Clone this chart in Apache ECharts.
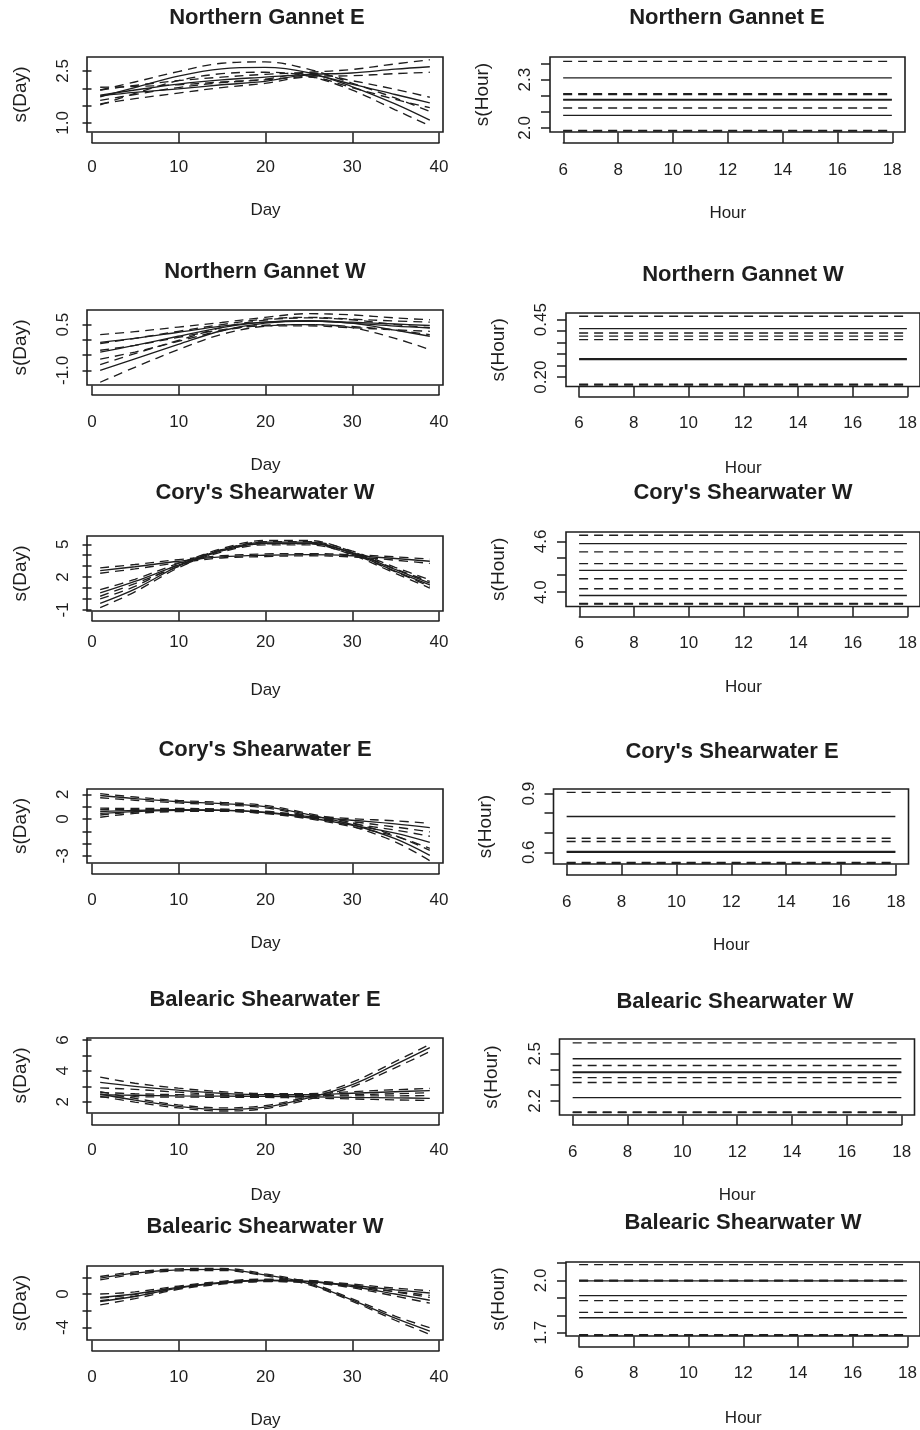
<!DOCTYPE html>
<html>
<head>
<meta charset="utf-8">
<script src="https://cdn.jsdelivr.net/npm/echarts@6/dist/echarts.min.js"></script>
<style>
html, body { margin: 0; padding: 0; background: #fff; }
#main { width: 920px; height: 1430px; }
</style>
</head>
<body>
<div id="main"></div>
<script>
// sample days / hours
const days = [1, 5, 10, 15, 20, 25, 30, 35, 39];
const hours = [6, 18];

// Northern Gannet E, s(Day): three fits with upper/lower bands
const ngeDayFit = [
    [1.75, 2.02, 2.35, 2.56, 2.60, 2.45, 2.05, 1.55, 1.08],
    [1.78, 1.88, 1.98, 2.10, 2.20, 2.38, 2.12, 1.82, 1.58],
    [1.80, 1.95, 2.12, 2.24, 2.32, 2.40, 2.44, 2.55, 2.62]
];
const ngeDayUp = [
    [1.95, 2.18, 2.48, 2.72, 2.76, 2.55, 2.15, 1.72, 1.33],
    [2.03, 2.05, 2.10, 2.18, 2.26, 2.44, 2.22, 1.97, 1.74],
    [1.95, 2.08, 2.22, 2.32, 2.40, 2.46, 2.54, 2.70, 2.82]
];
const ngeDayLo = [
    [1.52, 1.85, 2.22, 2.42, 2.46, 2.35, 1.95, 1.38, 0.92],
    [1.55, 1.70, 1.86, 2.02, 2.14, 2.32, 2.02, 1.68, 1.44],
    [1.65, 1.82, 2.02, 2.16, 2.24, 2.34, 2.36, 2.42, 2.46]
];

// Northern Gannet W, s(Day)
const ngwDayFit = [
    [-0.08, 0.05, 0.25, 0.45, 0.58, 0.62, 0.58, 0.52, 0.47],
    [-0.40, -0.18, 0.12, 0.40, 0.58, 0.62, 0.55, 0.45, 0.39],
    [-1.00, -0.62, -0.15, 0.30, 0.55, 0.62, 0.55, 0.32, 0.12]
];
const ngwDayUp = [
    [0.17, 0.27, 0.42, 0.57, 0.74, 0.86, 0.82, 0.72, 0.66],
    [-0.12, 0.05, 0.28, 0.50, 0.68, 0.74, 0.68, 0.62, 0.58],
    [-0.81, -0.45, -0.02, 0.40, 0.65, 0.72, 0.66, 0.50, 0.40]
];
const ngwDayLo = [
    [-0.34, -0.18, 0.08, 0.33, 0.46, 0.46, 0.40, 0.33, 0.28],
    [-0.63, -0.40, -0.05, 0.30, 0.48, 0.50, 0.44, 0.32, 0.17],
    [-1.39, -0.90, -0.32, 0.18, 0.45, 0.50, 0.40, 0.05, -0.32]
];

// Cory's Shearwater W, s(Day)
const cswDayFit = [
    [2.60, 2.95, 3.45, 3.85, 4.00, 4.05, 3.95, 3.70, 3.45],
    [0.55, 1.60, 3.10, 4.40, 5.10, 5.10, 4.25, 2.70, 1.45],
    [-0.40, 0.90, 3.00, 4.50, 5.20, 5.20, 4.20, 2.55, 1.30]
];
const cswDayUp = [
    [2.85, 3.15, 3.60, 3.95, 4.12, 4.15, 4.05, 3.85, 3.65],
    [0.85, 1.80, 3.25, 4.50, 5.25, 5.25, 4.40, 2.90, 1.75],
    [0.00, 1.15, 3.15, 4.60, 5.35, 5.35, 4.35, 2.75, 1.60]
];
const cswDayLo = [
    [2.35, 2.75, 3.30, 3.75, 3.88, 3.95, 3.85, 3.55, 3.25],
    [0.25, 1.40, 2.95, 4.30, 4.95, 4.95, 4.10, 2.50, 1.15],
    [-0.80, 0.65, 2.85, 4.40, 5.05, 5.05, 4.05, 2.35, 1.00]
];

// Cory's Shearwater E, s(Day)
const cseDayFit = [
    [1.90, 1.65, 1.40, 1.25, 1.00, 0.35, -0.45, -1.60, -2.95],
    [0.60, 0.70, 0.75, 0.72, 0.55, 0.20, -0.10, -0.40, -0.70],
    [0.45, 0.60, 0.70, 0.70, 0.52, 0.10, -0.50, -1.15, -1.90]
];
const cseDayUp = [
    [2.05, 1.78, 1.50, 1.35, 1.10, 0.45, -0.30, -1.35, -2.55],
    [0.88, 0.85, 0.85, 0.80, 0.63, 0.28, 0.02, -0.15, -0.35],
    [0.75, 0.75, 0.80, 0.78, 0.60, 0.18, -0.38, -0.90, -1.40]
];
const cseDayLo = [
    [1.72, 1.52, 1.30, 1.15, 0.90, 0.25, -0.60, -1.85, -3.38],
    [0.32, 0.55, 0.65, 0.64, 0.47, 0.12, -0.22, -0.65, -1.05],
    [0.14, 0.45, 0.60, 0.62, 0.44, 0.02, -0.62, -1.40, -2.38]
];

// Balearic Shearwater E, s(Day)
const bseDayFit = [
    [2.50, 2.10, 1.70, 1.50, 1.65, 2.25, 3.10, 4.40, 5.50],
    [3.25, 3.00, 2.75, 2.55, 2.45, 2.45, 2.55, 2.65, 2.72],
    [2.45, 2.42, 2.38, 2.36, 2.35, 2.32, 2.28, 2.25, 2.22]
];
const bseDayUp = [
    [2.65, 2.22, 1.80, 1.60, 1.75, 2.35, 3.25, 4.60, 5.72],
    [3.60, 3.20, 2.88, 2.65, 2.53, 2.53, 2.65, 2.78, 2.86],
    [2.60, 2.52, 2.46, 2.43, 2.42, 2.40, 2.38, 2.38, 2.40]
];
const bseDayLo = [
    [2.35, 1.98, 1.60, 1.40, 1.55, 2.15, 2.95, 4.20, 5.25],
    [2.90, 2.80, 2.62, 2.45, 2.37, 2.37, 2.45, 2.52, 2.58],
    [2.30, 2.32, 2.30, 2.29, 2.28, 2.24, 2.18, 2.12, 2.08]
];

// Balearic Shearwater W, s(Day)
const bswDayFit = [
    [1.90, 2.50, 2.90, 2.95, 2.30, 1.25, -0.70, -2.90, -4.45],
    [-0.40, 0.00, 0.80, 1.40, 1.65, 1.50, 1.05, 0.50, 0.12],
    [-0.90, -0.30, 0.70, 1.30, 1.60, 1.50, 0.90, 0.00, -0.75]
];
const bswDayUp = [
    [2.10, 2.65, 3.02, 3.08, 2.42, 1.38, -0.55, -2.65, -4.05],
    [0.00, 0.25, 0.95, 1.52, 1.78, 1.62, 1.20, 0.70, 0.40],
    [-0.50, -0.05, 0.85, 1.42, 1.72, 1.62, 1.05, 0.25, -0.40]
];
const bswDayLo = [
    [1.70, 2.35, 2.78, 2.82, 2.18, 1.12, -0.85, -3.15, -4.85],
    [-0.80, -0.25, 0.65, 1.28, 1.52, 1.38, 0.90, 0.30, -0.16],
    [-1.30, -0.55, 0.55, 1.18, 1.48, 1.38, 0.75, -0.25, -1.10]
];

// s(Hour): flat fits and bands
const ngeHourFit = [2.311, 2.178, 2.173, 2.078];
const ngeHourBand = [2.414, 2.213, 2.207, 2.124, 1.985, 1.980];
const ngwHourFit = [0.411, 0.280, 0.276];
const ngwHourBand = [0.465, 0.392, 0.378, 0.363, 0.169, 0.165];
const cswHourFit = [4.573, 4.257, 3.960];
const cswHourBand = [4.672, 4.475, 4.336, 4.158, 4.040, 3.865, 3.858];
const cseHourFit = [0.783, 0.604, 0.600];
const cseHourBand = [0.907, 0.672, 0.655, 0.548, 0.544];
const bswHourFitA = [2.468, 2.385, 2.380, 2.221];
const bswHourBandA = [2.569, 2.425, 2.348, 2.317, 2.129, 2.125];
const bswHourFitB = [1.998, 1.913, 1.786];
const bswHourBandB = [2.091, 2.001, 1.996, 1.884, 1.817, 1.688, 1.684];

// y tick marks and the labels R kept
const ngeDayTicks = [1.0, 1.5, 2.0, 2.5], ngeDayLabels = ['1.0', '2.5'];
const ngwDayTicks = [-1.0, -0.5, 0.0, 0.5], ngwDayLabels = ['-1.0', '0.5'];
const cswDayTicks = [-1, 0, 1, 2, 3, 4, 5], cswDayLabels = ['-1', '2', '5'];
const cseDayTicks = [-3, -2, -1, 0, 1, 2], cseDayLabels = ['-3', '0', '2'];
const bseDayTicks = [2, 3, 4, 5, 6], bseDayLabels = ['2', '4', '6'];
const bswDayTicks = [-4, -2, 0, 2], bswDayLabels = ['-4', '0'];
const ngeHourTicks = [2.0, 2.1, 2.2, 2.3, 2.4], ngeHourLabels = ['2.0', '2.3'];
const ngwHourTicks = [0.20, 0.25, 0.30, 0.35, 0.40, 0.45], ngwHourLabels = ['0.20', '0.45'];
const cswHourTicks = [4.0, 4.2, 4.4, 4.6], cswHourLabels = ['4.0', '4.6'];
const cseHourTicks = [0.6, 0.7, 0.8, 0.9], cseHourLabels = ['0.6', '0.9'];
const bswHourTicksA = [2.2, 2.3, 2.4, 2.5], bswHourLabelsA = ['2.2', '2.5'];
const bswHourTicksB = [1.7, 1.8, 1.9, 2.0, 2.1], bswHourLabelsB = ['1.7', '2.0'];

const FONT = 'Liberation Sans, Arial, Helvetica, sans-serif';
const INK = '#1e1e1e';
const DASH = [9, 6];

// box: [left, top, width, height]; axis: [left, width, y of axis line]
const panels = [
    { title: 'Northern Gannet E', tx: 267, ty: 18, kind: 'day', fit: ngeDayFit, up: ngeDayUp, lo: ngeDayLo,
      yMin: 0.74, yMax: 2.90, ticks: ngeDayTicks, labels: ngeDayLabels,
      box: [87, 57, 356, 75], axis: [92, 347, 143], labelY: 167, nameY: 210 },
    { title: 'Northern Gannet E', tx: 727, ty: 18, kind: 'hour', fit: ngeHourFit, band: ngeHourBand,
      yMin: 1.975, yMax: 2.441, ticks: ngeHourTicks, labels: ngeHourLabels,
      box: [550, 57, 355, 75], axis: [563.3, 329, 143], labelY: 170, nameY: 213 },
    { title: 'Northern Gannet W', tx: 265, ty: 272, kind: 'day', fit: ngwDayFit, up: ngwDayUp, lo: ngwDayLo,
      yMin: -1.48, yMax: 0.98, ticks: ngwDayTicks, labels: ngwDayLabels,
      box: [87, 310, 356, 75], axis: [92, 347, 395], labelY: 422, nameY: 465 },
    { title: 'Northern Gannet W', tx: 743, ty: 275, kind: 'hour', fit: ngwHourFit, band: ngwHourBand,
      yMin: 0.159, yMax: 0.479, ticks: ngwHourTicks, labels: ngwHourLabels,
      box: [566, 313, 355, 73.5], axis: [579, 329.3, 396.7], labelY: 423, nameY: 468 },
    { title: "Cory's Shearwater W", tx: 265, ty: 493, kind: 'day', fit: cswDayFit, up: cswDayUp, lo: cswDayLo,
      yMin: -1.1, yMax: 5.76, ticks: cswDayTicks, labels: cswDayLabels,
      box: [87, 536, 356, 75], axis: [92, 347, 621], labelY: 642, nameY: 690 },
    { title: "Cory's Shearwater W", tx: 743, ty: 493, kind: 'hour', fit: cswHourFit, band: cswHourBand,
      yMin: 3.83, yMax: 4.71, ticks: cswHourTicks, labels: cswHourLabels,
      box: [566, 532, 355, 74.5], axis: [579.3, 328.7, 616.7], labelY: 643, nameY: 687 },
    { title: "Cory's Shearwater E", tx: 265, ty: 750, kind: 'day', fit: cseDayFit, up: cseDayUp, lo: cseDayLo,
      yMin: -3.57, yMax: 2.43, ticks: cseDayTicks, labels: cseDayLabels,
      box: [87, 789, 356, 74], axis: [92, 347, 874], labelY: 900, nameY: 943 },
    { title: "Cory's Shearwater E", tx: 732, ty: 752, kind: 'hour', fit: cseHourFit, band: cseHourBand,
      yMin: 0.54, yMax: 0.924, ticks: cseHourTicks, labels: cseHourLabels,
      box: [553.5, 789, 355, 75], axis: [566.7, 329.3, 875], labelY: 902, nameY: 945 },
    { title: 'Balearic Shearwater E', tx: 265, ty: 1000, kind: 'day', fit: bseDayFit, up: bseDayUp, lo: bseDayLo,
      yMin: 1.27, yMax: 6.13, ticks: bseDayTicks, labels: bseDayLabels,
      box: [87, 1038, 356, 75], axis: [92, 347, 1125], labelY: 1150, nameY: 1195 },
    { title: 'Balearic Shearwater W', tx: 735, ty: 1002, kind: 'hour', fit: bswHourFitA, band: bswHourBandA,
      yMin: 2.11, yMax: 2.594, ticks: bswHourTicksA, labels: bswHourLabelsA,
      box: [559.5, 1039, 355, 76], axis: [572.7, 329, 1125], labelY: 1152, nameY: 1195 },
    { title: 'Balearic Shearwater W', tx: 265, ty: 1227, kind: 'day', fit: bswDayFit, up: bswDayUp, lo: bswDayLo,
      yMin: -5.52, yMax: 3.36, ticks: bswDayTicks, labels: bswDayLabels,
      box: [87, 1266, 356, 74], axis: [92, 347, 1351], labelY: 1377, nameY: 1420 },
    { title: 'Balearic Shearwater W', tx: 743, ty: 1223, kind: 'hour', fit: bswHourFitB, band: bswHourBandB,
      yMin: 1.681, yMax: 2.106, ticks: bswHourTicksB, labels: bswHourLabelsB,
      box: [566, 1262, 355, 74], axis: [579, 329, 1346.7], labelY: 1373, nameY: 1418 }
];

function pairs(xs, ys) {
    return xs.map((x, i) => [x, ys[i]]);
}

let grids = [], xAxes = [], yAxes = [], series = [], texts = [];
const axisText = { fontSize: 17, color: INK, fontFamily: FONT };
const yNameText = { fontSize: 19, color: INK, fontFamily: FONT };

panels.forEach((p, k) => {
    const isDay = p.kind === 'day';
    const g = 2 * k;
    const boxBottom = p.box[1] + p.box[3];
    const tickH = p.axis[2] - boxBottom;

    // plot box
    grids.push({ left: p.box[0], top: p.box[1], width: p.box[2], height: p.box[3],
        show: true, borderColor: INK, borderWidth: 1.6, backgroundColor: 'transparent' });
    // separate strip for the R style x axis below the box
    grids.push({ left: p.axis[0], top: boxBottom, width: p.axis[1], height: tickH, show: false });

    xAxes.push({ gridIndex: g, type: 'value', show: false,
        min: isDay ? -0.52 : 5.52, max: isDay ? 40.52 : 18.48 });
    xAxes.push({ gridIndex: g + 1, type: 'value',
        min: isDay ? 0 : 6, max: isDay ? 40 : 18, interval: isDay ? 10 : 2,
        axisLine: { show: true, lineStyle: { color: INK, width: 1.5 } },
        axisTick: { show: true, inside: true, length: tickH - 0.5, lineStyle: { color: INK, width: 1.5 } },
        axisLabel: Object.assign({ margin: p.labelY - p.axis[2] - 8.5 }, axisText),
        splitLine: { show: false },
        name: isDay ? 'Day' : 'Hour', nameLocation: 'middle',
        nameGap: p.nameY - p.axis[2] - 8.5, nameTextStyle: axisText });

    const labelVals = p.labels.map(Number);
    yAxes.push({ gridIndex: g, type: 'value', min: p.yMin, max: p.yMax,
        axisLine: { show: false },
        axisTick: { show: true, customValues: p.ticks, length: 9, lineStyle: { color: INK, width: 1.5 } },
        axisLabel: Object.assign({ customValues: labelVals, rotate: 90, margin: isDay ? 15 : 16,
            formatter: v => p.labels[labelVals.findIndex(n => Math.abs(n - v) < 1e-9)] }, axisText),
        splitLine: { show: false },
        name: isDay ? 's(Day)' : 's(Hour)', nameLocation: 'middle',
        nameGap: isDay ? 57 : 58, nameTextStyle: yNameText });
    yAxes.push({ gridIndex: g + 1, type: 'value', show: false, min: 0, max: 1 });

    const line = (data, dashed) => ({
        type: 'line', xAxisIndex: g, yAxisIndex: g, data: data,
        showSymbol: false, symbol: 'none', smooth: isDay ? 0.35 : false, silent: true,
        lineStyle: { color: INK, width: 1.35, type: dashed ? DASH : 'solid' }
    });
    if (isDay) {
        p.fit.forEach((f, i) => {
            series.push(line(pairs(days, f), false));
            series.push(line(pairs(days, p.up[i]), true));
            series.push(line(pairs(days, p.lo[i]), true));
        });
    } else {
        p.fit.forEach(v => series.push(line(pairs(hours, [v, v]), false)));
        p.band.forEach(v => series.push(line(pairs(hours, [v, v]), true)));
    }

    texts.push({ type: 'text', x: p.tx, y: p.ty, silent: true,
        style: { text: p.title, fill: INK, fontSize: 22, fontWeight: 'bold', fontFamily: FONT,
            align: 'center', verticalAlign: 'middle' } });
});

let chart = echarts.init(document.getElementById('main'));
option = {
    animation: false,
    backgroundColor: '#fff',
    grid: grids,
    xAxis: xAxes,
    yAxis: yAxes,
    series: series,
    graphic: texts
};
chart.setOption(option);
</script>
</body>
</html>
